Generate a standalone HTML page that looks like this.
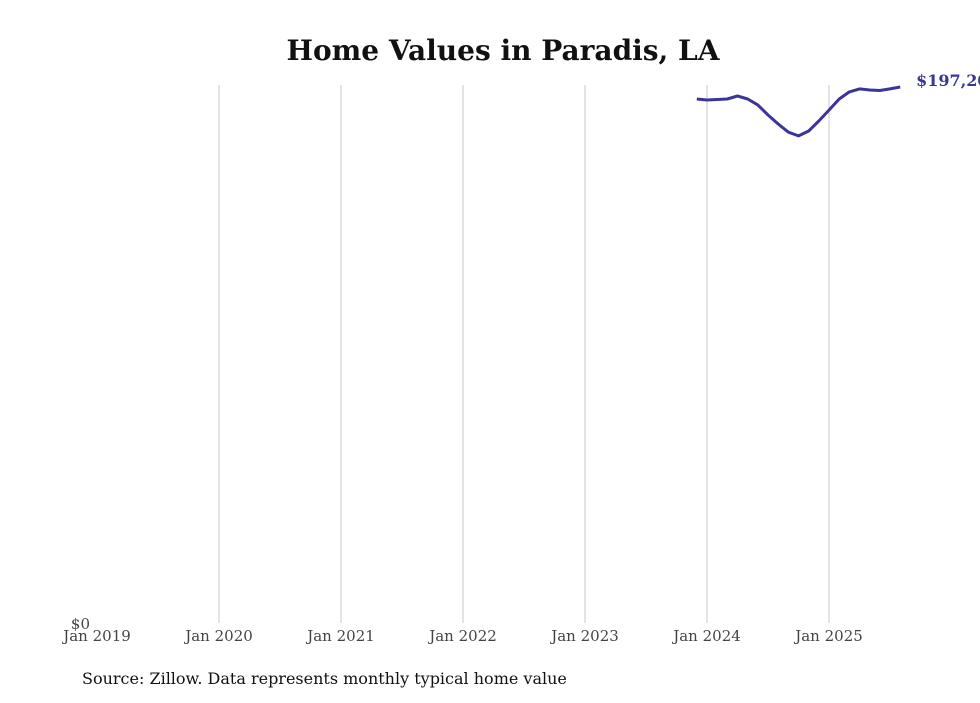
<!DOCTYPE html>
<html><head><meta charset="utf-8"><style>
body{margin:0;background:#fff;width:980px;height:699px;overflow:hidden;font-family:"DejaVu Serif","Liberation Serif",serif}
</style></head><body>
<svg width="980" height="699" xmlns="http://www.w3.org/2000/svg">
<text x="503" y="60" text-anchor="middle" font-size="28" font-weight="bold" fill="#111">Home Values in Paradis, LA</text>
<g id="grid"></g><g id="xt"></g>
<text x="90" y="629" text-anchor="end" font-size="15" fill="#444">$0</text>
<path id="line" fill="none" stroke="#3a3596" stroke-width="3" stroke-linejoin="round"/>
<text id="lbl" font-size="16" font-weight="bold" fill="#3a3596"></text>
<text x="82" y="684" font-size="16" fill="#111">Source: Zillow. Data represents monthly typical home value</text>
</svg>
<script>
const years=["Jan 2019","Jan 2020","Jan 2021","Jan 2022","Jan 2023","Jan 2024","Jan 2025"];
const startMonth=59; // Dec 2023, months since Jan 2019
const values=[192800,192400,192600,192800,193900,192800,190600,186900,183600,180600,179200,181000,184700,188700,192800,195400,196500,196100,195900,196500,197200];
const lastLabel="$197,200";
const ns="http://www.w3.org/2000/svg";
const x=m=>97+m*122/12;
const y=v=>623-v*(536/197200);
const grid=document.getElementById('grid'),xt=document.getElementById('xt');
years.forEach((t,i)=>{
 if(i>0){const l=document.createElementNS(ns,'line');
 l.setAttribute('x1',x(i*12));l.setAttribute('x2',x(i*12));l.setAttribute('y1',85);l.setAttribute('y2',623);
 l.setAttribute('stroke','#c8c8c8');l.setAttribute('stroke-width','1');
 
 
 grid.appendChild(l);}
 const tx=document.createElementNS(ns,'text');
 tx.setAttribute('x',x(i*12));tx.setAttribute('y',641);tx.setAttribute('text-anchor','middle');
 tx.setAttribute('font-size','15');tx.setAttribute('fill','#444');tx.textContent=t;
 
 
 xt.appendChild(tx);
});
document.getElementById('line').setAttribute('d',values.map((v,i)=>(i?'L':'M')+x(startMonth+i).toFixed(1)+','+y(v).toFixed(1)).join(''));
const lb=document.getElementById('lbl');
lb.setAttribute('x',x(startMonth+values.length-1)+16);lb.setAttribute('y',y(values[values.length-1])-1);lb.textContent=lastLabel;
</script>
</body></html>
